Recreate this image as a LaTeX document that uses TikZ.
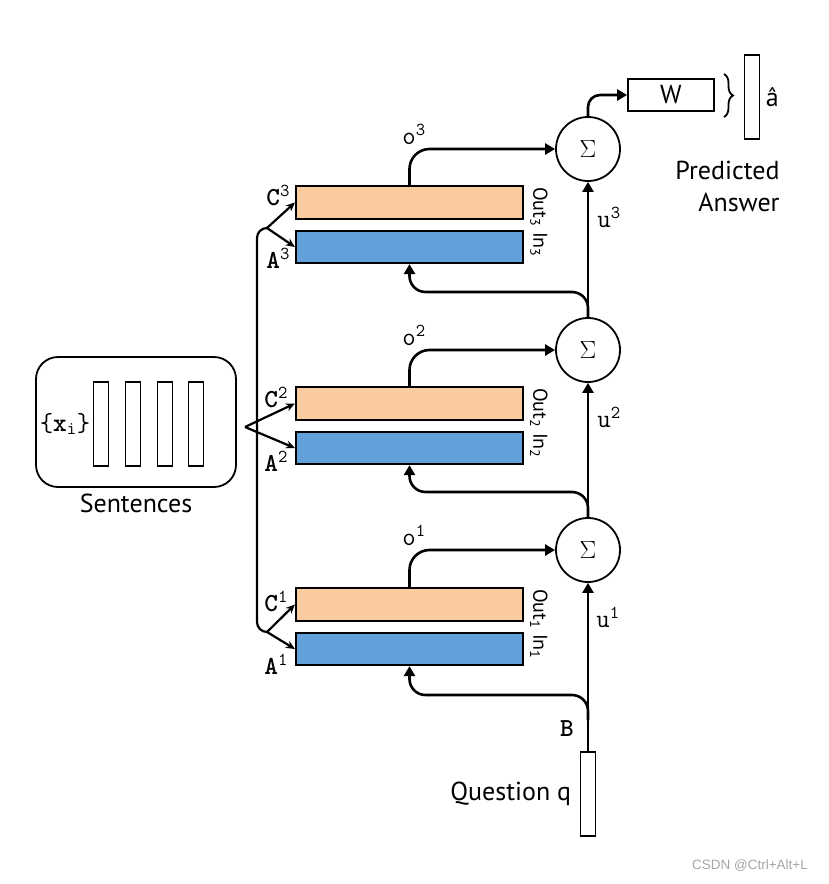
\documentclass[tikz,border=0pt]{standalone}
\usepackage{fontspec}
\setmainfont{PT Sans}
\newfontfamily\wmfont{Liberation Sans}
\usetikzlibrary{arrows.meta, calc, positioning, decorations.pathreplacing}
\definecolor{OutPeach}{RGB}{251,203,160}
\definecolor{InBlue}{RGB}{98,160,220}

\begin{document}
\begin{tikzpicture}[x=1pt, y=-1pt, line width=2.2pt,
	outbox/.style={rectangle, draw, fill=OutPeach, minimum width=227pt,
		minimum height=33pt, inner sep=0pt},
	inbox/.style={rectangle, draw, fill=InBlue, minimum width=227pt,
		minimum height=32pt, inner sep=0pt},
	summ/.style={circle, draw, line width=1.8pt, minimum size=64pt, inner sep=0pt,
		font=\fontsize{26}{26}\selectfont},
	bar/.style={rectangle, draw, line width=1.8pt, minimum width=15pt,
		minimum height=84pt, inner sep=0pt},
	lab/.style={font=\fontsize{26}{26}\selectfont\ttfamily, inner sep=0pt},
	side/.style={font=\fontsize{20}{20}\selectfont, rotate=-90, inner sep=0pt,
		anchor=south west},
	txt/.style={font=\fontsize{26}{32}\selectfont},
	fl/.style={-{Triangle[length=10pt, width=11pt]}, line width=2.6pt},
	fk/.style={-{Stealth[length=9pt, width=8pt]}, line width=2.2pt}]

	\useasboundingbox (0,0) rectangle (828,884);

	% memory layers
	\node[outbox] (out3) at (409.5,202.5) {};
	\node[inbox]  (in3)  at (409.5,247) {};
	\node[outbox] (out2) at (409.5,403.5) {};
	\node[inbox]  (in2)  at (409.5,448) {};
	\node[outbox] (out1) at (409.5,604.5) {};
	\node[inbox]  (in1)  at (409.5,649) {};

	\node[side] at ($(out3.north east)+(5,1)$) {Out\textsubscript{3}};
	\node[side] at ($(in3.north east)+(5,1)$) {In\textsubscript{3}};
	\node[side] at ($(out2.north east)+(5,1)$) {Out\textsubscript{2}};
	\node[side] at ($(in2.north east)+(5,1)$) {In\textsubscript{2}};
	\node[side] at ($(out1.north east)+(5,1)$) {Out\textsubscript{1}};
	\node[side] at ($(in1.north east)+(5,1)$) {In\textsubscript{1}};

	\node[summ] (sig3) at (588,149) {$\Sigma$};
	\node[summ] (sig2) at (588,350) {$\Sigma$};
	\node[summ] (sig1) at (588,550) {$\Sigma$};

	% sentences
	\node[draw, rounded corners=22pt, line width=1.8pt, minimum width=200pt,
		minimum height=130pt] (sent) at (136,422) {};
	\node[bar] (s1) at (101,424) {};
	\node[bar] (s2) at (133,424) {};
	\node[bar] (s3) at (165,424) {};
	\node[bar] (s4) at (196,424) {};
	\node[lab] (xi) at (65,424) {\{\textbf{x}\textsubscript{i}\}};
	\node[txt, below=2pt of sent] (sentlab) {Sentences};

	% question
	\node[bar] (q) at (588,794) {};
	\node[txt, left=4pt of q] (qlab) {Question q};
	\node[lab, font=\fontsize{26}{26}\selectfont\ttfamily\bfseries] (b) at (567,729) {B};

	% answer
	\node[draw, line width=1.8pt, minimum width=86pt, minimum height=32pt,
		txt] (w) at (671,95) {W};
	\node[bar] (ahat) at (752,97) {};
	\node[txt, right=1pt of ahat] (alab) {â};
	\node[txt, align=right, anchor=east] (pred) at (784,186) {Predicted\\Answer};
	\coordinate (bt) at (724,74);
	\coordinate (bb) at (724,117);
	\draw[line width=1.8pt, decorate, decoration={brace, amplitude=9pt}] (bt) -- (bb);

	% fork from sentences
	\coordinate (f3) at (267,228);
	\coordinate (f2) at (245,427);
	\coordinate (f1) at (267,632);
	\coordinate (v3) at (257,228);
	\coordinate (v1) at (257,632);
	\draw[rounded corners=10pt] (f3) -- (v3) -- (v1) -- (f1);
	\draw[fk] (f3) -- (out3.west);   \draw[fk] (f3) -- (in3.west);
	\draw[fk] (f2) -- (out2.west);   \draw[fk] (f2) -- (in2.west);
	\draw[fk] (f1) -- (out1.west);   \draw[fk] (f1) -- (in1.west);

	% outputs
	\draw[fl, rounded corners=20pt] (out3.north) |- (sig3);
	\draw[fl, rounded corners=20pt] (out2.north) |- (sig2);
	\draw[fl, rounded corners=20pt] (out1.north) |- (sig1);

	% controller
	\coordinate (qb) at (588,720);
	\coordinate (k1) at (409.5,695);
	\coordinate (k2) at (409.5,492);
	\coordinate (k3) at (409.5,292);
	\draw[fl] (q) -- (sig1);
	\draw[fl] (sig1) -- (sig2);
	\draw[fl] (sig2) -- (sig3);
	\draw[fl, rounded corners=16pt] (qb) |- (k1) -- (in1.south);
	\draw[fl, rounded corners=16pt] (sig1.north) |- (k2) -- (in2.south);
	\draw[fl, rounded corners=16pt] (sig2.north) |- (k3) -- (in3.south);
	\draw[fl, rounded corners=12pt] (sig3.north) |- (w.west);

	% labels
	\node[lab, anchor=east] at (291,195) {\textbf{C}\textsuperscript{3}};
	\node[lab, anchor=east] at (291,258) {\textbf{A}\textsuperscript{3}};
	\node[lab, anchor=east] at (289,397) {\textbf{C}\textsuperscript{2}};
	\node[lab, anchor=east] at (289,461) {\textbf{A}\textsuperscript{2}};
	\node[lab, anchor=east] at (289,601) {\textbf{C}\textsuperscript{1}};
	\node[lab, anchor=east] at (289,664) {\textbf{A}\textsuperscript{1}};
	\node[lab] at (414,134) {o\textsuperscript{3}};
	\node[lab] at (414,335) {o\textsuperscript{2}};
	\node[lab] at (414,535) {o\textsuperscript{1}};
	\node[lab] at (609,217) {u\textsuperscript{3}};
	\node[lab] at (609,417) {u\textsuperscript{2}};
	\node[lab] at (608,617) {u\textsuperscript{1}};

	\node[font=\wmfont\fontsize{13.5}{13.5}\selectfont, text=gray!70] (wm) at (750,866) {CSDN @Ctrl+Alt+L};
\end{tikzpicture}
\end{document}
